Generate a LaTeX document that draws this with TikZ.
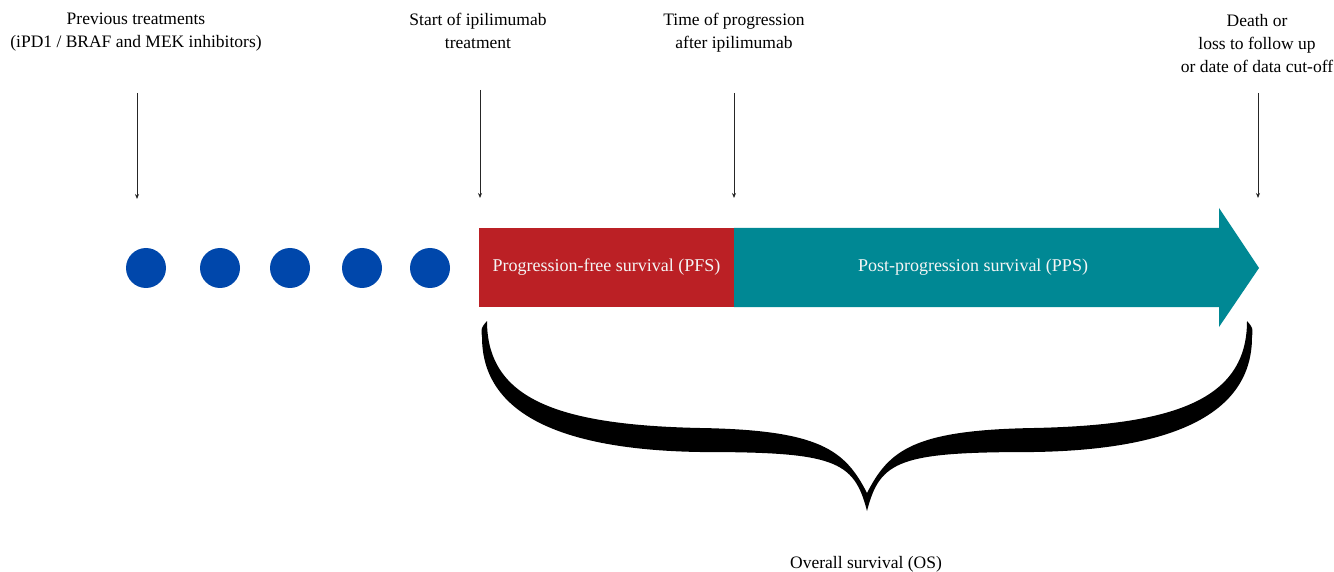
\documentclass[tikz,border=0pt]{standalone}
\usepackage{fontspec}
\setmainfont{Liberation Serif}
\usetikzlibrary{arrows.meta}
\definecolor{pfsred}{RGB}{187,32,37}
\definecolor{ppsteal}{RGB}{0,136,148}
\definecolor{dotblue}{RGB}{0,71,171}
\tikzset{
  lbl/.style={align=center, font=\fontsize{17.5}{23}\selectfont, inner sep=0pt},
  pointer/.style={draw=black!85, line width=0.9pt, -{Stealth[length=5pt,width=4pt]}},
  dot/.style={circle, fill=dotblue, minimum size=40pt, inner sep=0pt},
  bartext/.style={text=white!92!gray, font=\fontsize{18}{20}\selectfont},
}
\begin{document}
\begin{tikzpicture}[x=1pt,y=-1pt]
\useasboundingbox (0,0) rectangle (1334,572);
% labels
\node[lbl, anchor=north] (prev) at (136,13) {Previous treatments\\(iPD1 / BRAF and MEK inhibitors)};
\node[lbl, anchor=north] (start) at (478,13) {Start of ipilimumab\\treatment};
\node[lbl, anchor=north] (prog) at (734,13) {Time of progression\\after ipilimumab};
\node[lbl, anchor=north] (death) at (1257,14) {Death or\\loss to follow up\\or date of data cut-off};
% pointer ends
\coordinate (p1s) at (137,93); \coordinate (p1e) at (137,199);
\coordinate (p2s) at (480,90); \coordinate (p2e) at (480,198);
\coordinate (p3s) at (734,93); \coordinate (p3e) at (734,198);
\coordinate (p4s) at (1258,93); \coordinate (p4e) at (1258,198);
\draw[pointer] (p1s) -- (p1e);
\draw[pointer] (p2s) -- (p2e);
\draw[pointer] (p3s) -- (p3e);
\draw[pointer] (p4s) -- (p4e);
% dots
\node[dot] (d1) at (146,268) {};
\node[dot] (d2) at (220,268) {};
\node[dot] (d3) at (290,268) {};
\node[dot] (d4) at (362,268) {};
\node[dot] (d5) at (430,268) {};
% PFS bar
\fill[pfsred] (479,228) rectangle (734,307);
\node[bartext] (pfs) at (606.5,267) {Progression-free survival (PFS)};
% PPS arrow
\fill[ppsteal] (734,228) -- (1219,228) -- (1219,208) -- (1259,268) -- (1219,327) -- (1219,307) -- (734,307) -- cycle;
\node[bartext] (pps) at (973,267) {Post-progression survival (PPS)};
% brace
\fill[black] (487,321) .. controls (487,400) and (560,425) .. (700,428)
  .. controls (820,430) and (845,450) .. (867,493)
  .. controls (889,450) and (914,430) .. (1034,428)
  .. controls (1174,425) and (1247,400) .. (1247,321)
  .. controls (1253,328) .. (1252,337)
  .. controls (1252,420) and (1160,450) .. (1034,452)
  .. controls (900,452) and (880,460) .. (867,511)
  .. controls (854,460) and (834,452) .. (700,452)
  .. controls (574,450) and (482,420) .. (482,337)
  .. controls (481,328) .. (487,321) -- cycle;
\node[lbl, anchor=base] (os) at (866,568) {Overall survival (OS)};
\end{tikzpicture}
\end{document}
